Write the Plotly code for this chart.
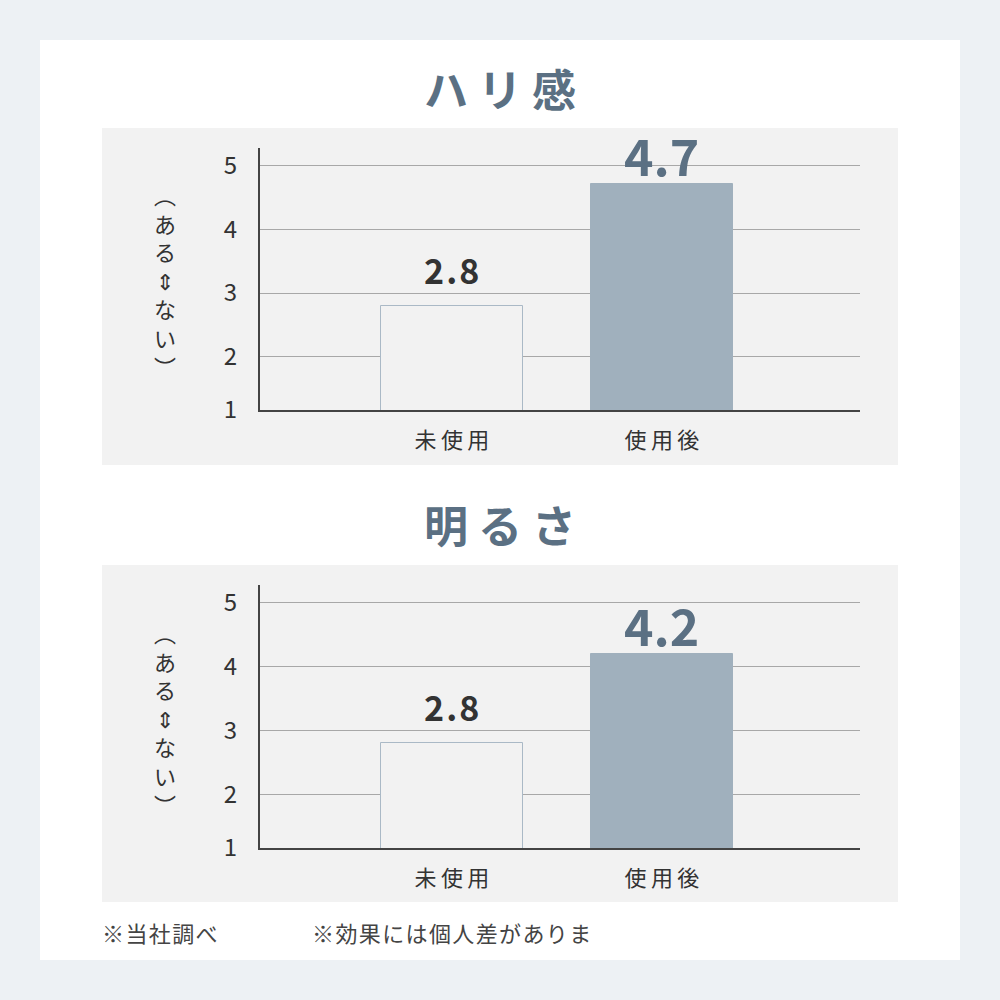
import plotly.graph_objects as go

# chart data
categories = ["未使用", "使用後"]
hari_values = [2.8, 4.7]
akarusa_values = [2.8, 4.2]
titles = ["ハリ感", "明るさ"]
y_tick_vals = [1.17, 2, 3, 4, 5]
y_tick_text = ["1", "2", "3", "4", "5"]
axis_label_chars = ["︵", "あ", "る", "⇕", "な", "い", "︶"]
notes = ["※当社調べ", "※効果には個人差がありま"]

FONT = "Noto Sans CJK JP"
DARK = "#333333"
ACCENT = "#5b7083"
BAR_GRAY = "#a0b0bd"
PANEL = "#f2f2f2"

fig = go.Figure()

# background card + two grey panels
fig.add_shape(type="rect", xref="paper", yref="paper", x0=0.04, x1=0.96, y0=0.04, y1=0.96,
              fillcolor="white", line=dict(width=0), layer="below")
for y0, y1 in [(0.535, 0.872), (0.098, 0.435)]:
    fig.add_shape(type="rect", xref="paper", yref="paper", x0=0.102, x1=0.898, y0=y0, y1=y1,
                  fillcolor=PANEL, line=dict(width=0), layer="below")

panels = [
    ("x", "y", hari_values, [0.59, 0.852], 0.912, 0.72),
    ("x2", "y2", akarusa_values, [0.152, 0.415], 0.476, 0.282),
]

for idx, (xa, ya, vals, ydom, title_y, label_y) in enumerate(panels):
    fig.add_trace(go.Bar(
        x=categories, y=vals, xaxis=xa, yaxis=ya, width=0.676,
        marker=dict(color=[PANEL, BAR_GRAY], line=dict(color=["#aab9c6", BAR_GRAY], width=1)),
        hoverinfo="skip", showlegend=False,
    ))
    # value labels above bars
    for i, (c, v) in enumerate(zip(categories, vals)):
        big = i == 1
        fig.add_annotation(
            x=c, y=v, xref=xa, yref=ya, yanchor="bottom", showarrow=False,
            text="<b>" + ("\u200a" if not big else "").join(f"{v:.1f}") + "</b>",
            font=dict(family=FONT, size=50 if big else 34, color=ACCENT if big else DARK),
            yshift=-8 if big else 10,
        )
    # panel title
    fig.add_annotation(x=0.5, y=title_y, xref="paper", yref="paper", showarrow=False,
                       yanchor="middle", text="<b>" + " ".join(titles[idx]) + "</b>",
                       font=dict(family=FONT, size=44, color=ACCENT))
    # vertical axis label
    fig.add_annotation(x=0.152, y=label_y, xref="paper", yref="paper", showarrow=False,
                       yanchor="middle", text="<br>".join(axis_label_chars),
                       font=dict(family=FONT, size=22, color=DARK))

    xkey = "xaxis" if xa == "x" else "xaxis2"
    ykey = "yaxis" if ya == "y" else "yaxis2"
    fig.update_layout(**{
        xkey: dict(domain=[0.26, 0.86], anchor=ya, range=[-0.914, 1.943], automargin=False,
                   showline=True, linecolor="#444444", linewidth=2, showgrid=False,
                   tickfont=dict(family=FONT, size=22, color=DARK), ticks="",
                   ticklabelstandoff=10,
                   tickvals=categories, ticktext=["\u2009".join(c) for c in categories]),
        ykey: dict(domain=ydom, anchor=xa, range=[1.17, 5.27], automargin=False,
                   showline=True, linecolor="#444444", linewidth=2,
                   showgrid=True, gridcolor="#a8a8a8", gridwidth=1, zeroline=False,
                   tickvals=y_tick_vals, ticktext=y_tick_text, ticks="",
                   ticklabelstandoff=16,
                   tickfont=dict(family=FONT, size=24, color=DARK)),
    })

# footnotes
fig.add_annotation(x=0.1, y=0.068, xref="paper", yref="paper", xanchor="left", yanchor="middle",
                   showarrow=False, text="\u200a".join(notes[0]),
                   font=dict(family=FONT, size=22, color="#444444"))
fig.add_annotation(x=0.31, y=0.068, xref="paper", yref="paper", xanchor="left", yanchor="middle",
                   showarrow=False, text="\u200a".join(notes[1]),
                   font=dict(family=FONT, size=22, color="#444444"))

fig.update_layout(
    width=1000, height=1000, margin=dict(l=0, r=0, t=0, b=0, autoexpand=False),
    paper_bgcolor="#edf1f4", plot_bgcolor=PANEL,
    bargap=0, showlegend=False,
    font=dict(family=FONT),
)

fig.write_html("out.html", config={"responsive": False, "displayModeBar": False},
               post_script="document.body.style.margin='0';")
